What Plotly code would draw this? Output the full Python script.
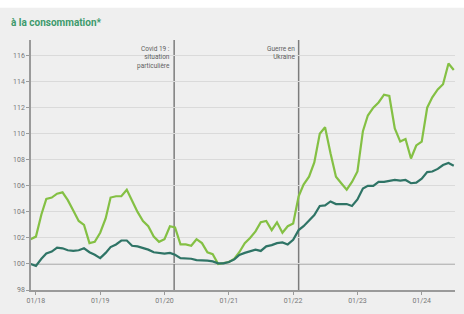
import pandas as pd
import plotly.graph_objects as go

months = pd.date_range("2017-12-01", periods=80, freq="MS")

prix_alim = [101.9, 102.1, 103.8, 105.0, 105.1, 105.4, 105.5, 104.9, 104.1, 103.3,
             103.0, 101.6, 101.7, 102.4, 103.5, 105.1, 105.2, 105.2, 105.7, 104.8,
             104.0, 103.3, 102.9, 102.1, 101.7, 101.9, 102.9, 102.8, 101.5, 101.5,
             101.4, 101.9, 101.6, 100.9, 100.75, 100.0, 100.05, 100.15, 100.4, 100.9,
             101.6, 102.0, 102.5, 103.2, 103.3, 102.6, 103.2, 102.4, 102.9, 103.1,
             105.2, 106.1, 106.7, 107.8, 110.0, 110.5, 108.5, 106.7, 106.2, 105.7,
             106.3, 107.1, 110.2, 111.4, 112.0, 112.4, 113.0, 112.9, 110.4, 109.4,
             109.6, 108.1, 109.1, 109.4, 112.0, 112.8, 113.4, 113.8, 115.4, 114.9]

prix_total = [100.0, 99.85, 100.4, 100.8, 100.95, 101.25, 101.2, 101.05, 101.0, 101.05,
              101.2, 100.9, 100.7, 100.45, 100.85, 101.3, 101.5, 101.8, 101.8, 101.4,
              101.35, 101.25, 101.1, 100.9, 100.85, 100.8, 100.85, 100.7, 100.45, 100.45,
              100.4, 100.3, 100.3, 100.25, 100.2, 100.05, 100.05, 100.15, 100.35, 100.7,
              100.85, 100.95, 101.1, 101.0, 101.35, 101.45, 101.6, 101.65, 101.5, 101.85,
              102.6, 102.9, 103.3, 103.75, 104.45, 104.5, 104.8, 104.6, 104.6, 104.6,
              104.45, 104.95, 105.8, 106.0, 106.0, 106.3, 106.3, 106.35, 106.45, 106.4,
              106.45, 106.2, 106.25, 106.55, 107.05, 107.1, 107.3, 107.6, 107.75, 107.55]

x_tick_vals = ["2018-01-01", "2019-01-01", "2020-01-01", "2021-01-01",
               "2022-01-01", "2023-01-01", "2024-01-01"]
x_tick_text = ["01/18", "01/19", "01/20", "01/21", "01/22", "01/23", "01/24"]
y_tick_vals = [98, 100, 102, 104, 106, 108, 110, 112, 114, 116]

events = ["2020-02-25", "2022-02-01"]
event_labels = ["Covid 19 :<br>situation<br>particulière", "Guerre en<br>Ukraine"]

BG = "#efefef"
GREEN = "#84c044"
TEAL = "#2f7466"
Y_MIN, Y_MAX = 98, 117.2

fig = go.Figure()
fig.add_trace(go.Scatter(x=months, y=prix_alim, mode="lines",
                         line=dict(color=GREEN, width=2.2), hoverinfo="skip"))
fig.add_trace(go.Scatter(x=months, y=prix_total, mode="lines",
                         line=dict(color=TEAL, width=2.2), hoverinfo="skip"))

shapes = []
shapes.append(dict(type="line", xref="paper", yref="y", x0=0, x1=1, y0=100, y1=100,
                   line=dict(color="#8a8a8a", width=1.2), layer="below"))
for d in events:
    shapes.append(dict(type="line", xref="x", yref="y", x0=d, x1=d, y0=Y_MIN, y1=Y_MAX,
                       line=dict(color="#7c7c7c", width=1.5), layer="below"))
shapes.append(dict(type="rect", xref="paper", yref="paper", x0=-0.1, x1=1.1,
                   y0=1 + 33.5 / 259, y1=1.3, fillcolor="white", line=dict(width=0),
                   layer="above"))

annotations = []
for d, lab in zip(events, event_labels):
    annotations.append(dict(x=d, y=Y_MAX, xref="x", yref="y", text=lab, showarrow=False,
                            xanchor="right", yanchor="top", align="right", xshift=-2,
                            yshift=-3, font=dict(size=6.5, color="#606060", family="Roboto")))
annotations.append(dict(x=(9 - 31) / 424, y=1 + (40 - 22) / 259, xref="paper", yref="paper",
                        text="<b>à la consommation*</b>", showarrow=False,
                        xanchor="left", yanchor="middle",
                        font=dict(size=10, color="#3d9a6c", family="Roboto")))

fig.update_layout(
    width=464, height=314,
    margin=dict(l=31, r=9, t=40, b=15),
    paper_bgcolor=BG, plot_bgcolor=BG,
    showlegend=False,
    shapes=shapes, annotations=annotations,
    font=dict(family="Roboto", size=7, color="#777777"),
    xaxis=dict(range=["2017-12-04", "2024-07-08"], tickvals=x_tick_vals, ticktext=x_tick_text,
               showgrid=False, zeroline=False, showline=True, linecolor="#9a9a9a", linewidth=1.5,
               ticks="outside", ticklen=3, tickcolor="#9a9a9a",
               tickfont=dict(size=7, color="#777777")),
    yaxis=dict(range=[Y_MIN, Y_MAX], tickvals=y_tick_vals, showgrid=True, gridcolor="#dadada",
               gridwidth=1, zeroline=False, showline=True, linecolor="#9a9a9a", linewidth=1.5,
               ticks="outside", ticklen=3, tickcolor="#9a9a9a",
               tickfont=dict(size=7, color="#777777")),
)

fig.write_html("out.html", config={"displayModeBar": False},
               post_script="document.body.style.margin='0';document.body.style.overflow='hidden';")
